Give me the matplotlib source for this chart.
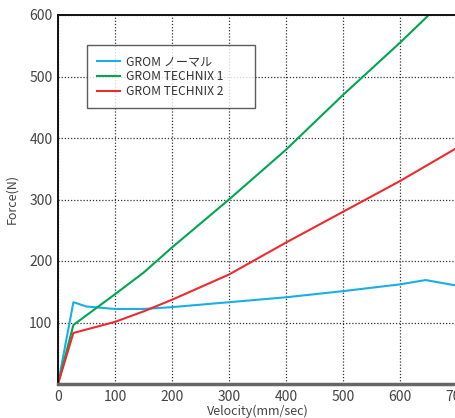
import matplotlib
matplotlib.use("Agg")
import matplotlib.pyplot as plt

plt.rcParams['font.family'] = ['Noto Sans CJK JP', 'DejaVu Sans']

# Velocity (mm/sec) and force (N)
normal_v = [0, 27, 50, 100, 150, 200, 300, 400, 500, 600, 645, 700]
normal_f = [0, 133, 126, 122, 122, 125, 133, 141, 151, 162, 169, 160]

tech1_v = [0, 27, 100, 150, 200, 300, 400, 500, 600, 655]
tech1_f = [0, 96, 146, 181, 222, 300, 381, 470, 555, 604]

tech2_v = [0, 27, 100, 150, 200, 300, 400, 500, 600, 700]
tech2_f = [0, 83, 101, 118, 137, 178, 230, 280, 330, 384]

labels = ['GROM ノーマル', 'GROM TECHNIX 1', 'GROM TECHNIX 2']
colors = ['#1aaee6', '#00a650', '#ee2a2e']

fig = plt.figure(figsize=(4.56, 4.18), dpi=100)
ax = fig.add_axes([58/456, 34/418, 399/456, 369/418])

ax.plot(normal_v, normal_f, color=colors[0], lw=1.5, label=labels[0])
ax.plot(tech1_v, tech1_f, color=colors[1], lw=1.5, label=labels[1])
ax.plot(tech2_v, tech2_f, color=colors[2], lw=1.5, label=labels[2])

ax.set_xlim(0, 700)
ax.set_ylim(0, 600)
ax.set_xticks([0, 100, 200, 300, 400, 500, 600, 700])
ax.set_yticks([100, 200, 300, 400, 500, 600])
ax.tick_params(length=0, labelsize=10, colors='#444444', pad=4)
ax.grid(True, color='#333333', linestyle=(0, (1, 1.5)), lw=0.9)
ax.set_axisbelow(True)

for side in ['left', 'top']:
    ax.spines[side].set_color('#111111')
    ax.spines[side].set_linewidth(1.4)
ax.spines['bottom'].set_color('#666666')
ax.spines['bottom'].set_linewidth(2.5)
ax.spines['right'].set_visible(False)

ax.set_xlabel('Velocity(mm/sec)', fontsize=9, color='#444444', labelpad=1)
ax.set_ylabel('Force(N)', fontsize=9, color='#444444', labelpad=8)

leg = ax.legend(loc='upper left', mode='expand',
                bbox_to_anchor=(29/399, 1 - 30/369, 168/399, 0),
                fontsize=8.7, frameon=True, fancybox=False,
                handlelength=1.9, handletextpad=0.5, borderpad=0.85,
                labelspacing=0.15, borderaxespad=0)
leg.get_frame().set_edgecolor('#333333')
leg.get_frame().set_linewidth(1.0)
for t in leg.get_texts():
    t.set_color('#333333')

fig.savefig('out.png', dpi=100)
